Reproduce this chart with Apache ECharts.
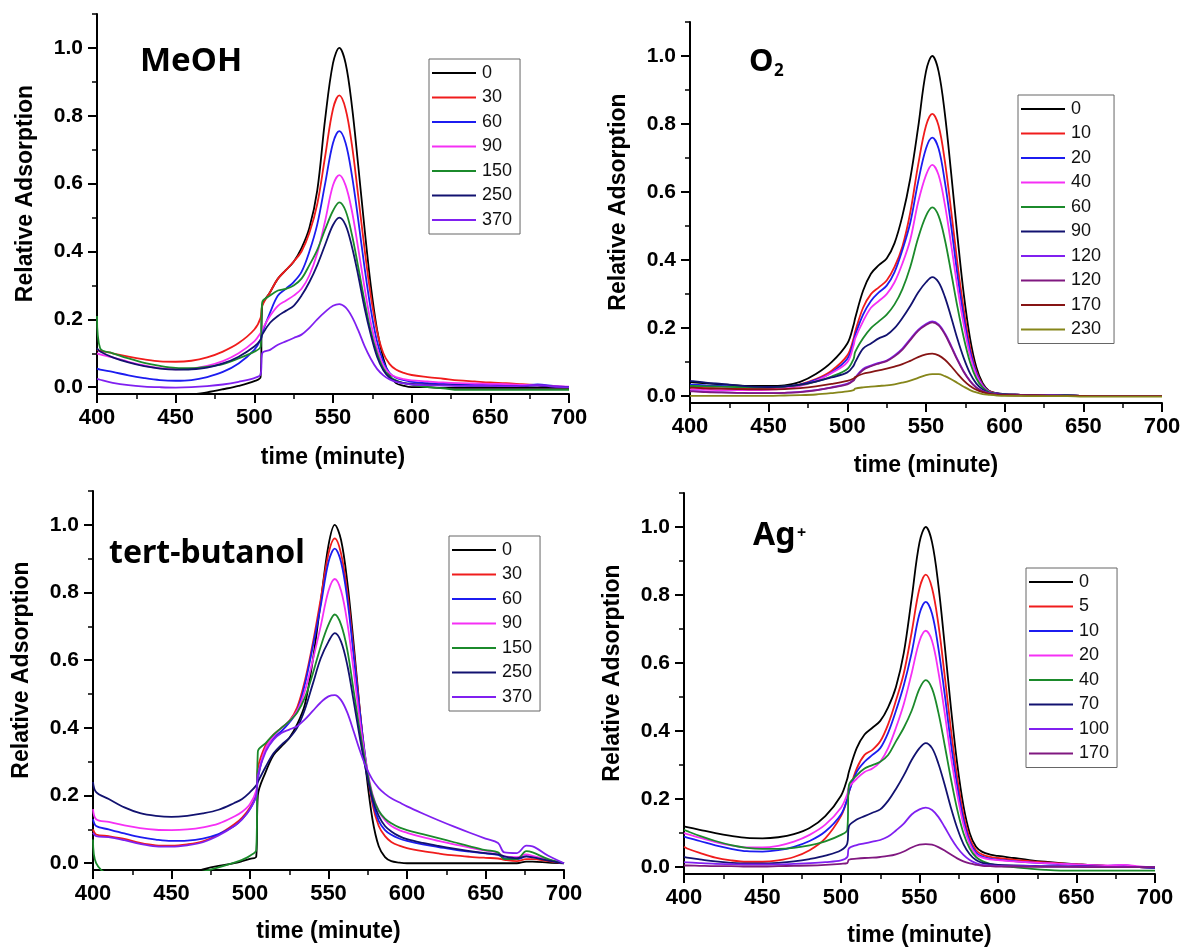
<!DOCTYPE html>
<html><head><meta charset="utf-8">
<script src="https://cdn.jsdelivr.net/npm/echarts@6/dist/echarts.min.js"></script>
<style>
html,body{margin:0;padding:0;background:#fff;width:1186px;height:947px;overflow:hidden}
.p{position:absolute}
</style></head>
<body>
<div id="c1" class="p" style="left:0;top:0;width:593px;height:482px"></div>
<div id="c2" class="p" style="left:593px;top:0;width:593px;height:482px"></div>
<div id="c3" class="p" style="left:0;top:470px;width:593px;height:477px"></div>
<div id="c4" class="p" style="left:593px;top:470px;width:593px;height:477px"></div>
<script>
// ---------- DATA ----------
// shared time grid (minute) for MeOH, O2 and Ag+ panels
const timeA = [400,402,410,420,430,440,450,460,470,480, 490,500,504,505,510,515,520,525,530,535, 540,545,550,554,558,562,566,570,574,578, 582,586,590,595,600,610,620,630,640,650, 660,670,680,690,700];
// time grid for tert-butanol panel
const timeB = [400,402,410,420,430,440,450,460,470,480, 490,495,500,504,505,510,515,520,525,530, 535,540,545,550,554,558,562,566,570,574, 578,582,586,590,595,600,610,620,630,640, 650,658,662,670,676,680,690,700];

const xTicks = [400,450,500,550,600,650,700];
const yTicks = [0.0,0.2,0.4,0.6,0.8,1.0];
const yMinorTicks = [0.1,0.3,0.5,0.7,0.9,1.1];

// MeOH panel
const meohLabels = ['0','30','60','90','150','250','370'];
const meoh_0   = [-0.03,-0.03,-0.03,-0.03,-0.03,-0.03,-0.028,-0.022,-0.015,-0.006, 0.004,0.018,0.03,0.24,0.28,0.32,0.345,0.37,0.41,0.47, 0.58,0.79,0.955,1.0,0.955,0.83,0.655,0.47,0.3,0.17, 0.085,0.035,0.012,0.004,0.0,0.0,-0.002,-0.002,-0.002,-0.002, -0.002,-0.002,-0.002,-0.002,-0.002];
const meoh_30  = [0.11,0.107,0.1,0.09,0.082,0.076,0.075,0.078,0.088,0.105, 0.13,0.17,0.205,0.24,0.28,0.32,0.345,0.37,0.4,0.455, 0.54,0.68,0.82,0.86,0.82,0.715,0.565,0.41,0.27,0.165, 0.1,0.068,0.052,0.042,0.036,0.03,0.025,0.02,0.017,0.014, 0.012,0.009,0.006,0.003,0.0];
const meoh_60  = [0.055,0.052,0.045,0.035,0.027,0.021,0.019,0.021,0.03,0.045, 0.07,0.11,0.14,0.16,0.22,0.27,0.29,0.31,0.34,0.4, 0.48,0.6,0.72,0.755,0.72,0.625,0.495,0.355,0.23,0.135, 0.075,0.042,0.028,0.021,0.016,0.012,0.01,0.009,0.008,0.007, 0.006,0.005,0.008,0.004,0.0];
const meoh_90  = [0.1,0.097,0.088,0.075,0.064,0.056,0.053,0.055,0.063,0.077, 0.1,0.135,0.16,0.17,0.21,0.24,0.255,0.27,0.29,0.33, 0.395,0.49,0.595,0.625,0.595,0.52,0.41,0.295,0.19,0.115, 0.065,0.04,0.03,0.024,0.02,0.017,0.014,0.012,0.011,0.01, 0.009,0.007,0.005,0.003,0.002];
const meoh_150 = [0.21,0.115,0.1,0.085,0.072,0.063,0.057,0.056,0.06,0.068, 0.085,0.105,0.12,0.25,0.27,0.285,0.29,0.3,0.32,0.36, 0.405,0.465,0.52,0.545,0.52,0.45,0.355,0.255,0.165,0.1, 0.055,0.032,0.02,0.012,0.008,0.0,-0.003,-0.008,-0.008,-0.008, -0.008,-0.008,-0.008,-0.008,-0.008];
const meoh_250 = [0.115,0.105,0.088,0.073,0.062,0.055,0.052,0.053,0.058,0.07, 0.09,0.12,0.14,0.155,0.19,0.21,0.225,0.24,0.27,0.31, 0.36,0.42,0.478,0.5,0.478,0.415,0.33,0.235,0.155,0.09, 0.05,0.028,0.018,0.012,0.01,0.008,0.006,0.005,0.004,0.004, 0.003,0.003,0.005,0.002,0.001];
const meoh_370 = [0.025,0.022,0.013,0.006,0.002,0.0,-0.001,0.0,0.003,0.008, 0.016,0.027,0.038,0.1,0.11,0.125,0.135,0.145,0.155,0.175, 0.2,0.222,0.24,0.245,0.235,0.208,0.168,0.122,0.084,0.054, 0.035,0.023,0.016,0.011,0.008,0.006,0.005,0.004,0.004,0.004, 0.003,0.004,0.006,0.002,0.0];

// O2 panel
const o2Labels = ['0','10','20','40','60','90','120','120 ','170','230'];
const o2_0    = [0.042,0.041,0.038,0.035,0.032,0.03,0.03,0.032,0.042,0.065, 0.1,0.155,0.21,0.23,0.31,0.36,0.385,0.405,0.45,0.53, 0.64,0.79,0.955,1.0,0.955,0.83,0.655,0.47,0.3,0.17, 0.085,0.038,0.016,0.009,0.006,0.004,0.003,0.002,0.002,0.001, 0.001,0.0,0.0,0.0,0.0];
const o2_10   = [0.025,0.025,0.024,0.023,0.022,0.022,0.023,0.027,0.035,0.05, 0.075,0.12,0.17,0.19,0.26,0.3,0.32,0.34,0.38,0.44, 0.54,0.68,0.795,0.83,0.795,0.69,0.545,0.39,0.255,0.145, 0.073,0.034,0.015,0.008,0.005,0.004,0.003,0.002,0.002,0.001, 0.001,0.0,0.0,0.0,0.0];
const o2_20   = [0.035,0.034,0.032,0.03,0.028,0.026,0.026,0.028,0.034,0.048, 0.07,0.11,0.16,0.18,0.24,0.28,0.305,0.325,0.365,0.43, 0.51,0.63,0.728,0.76,0.728,0.63,0.5,0.357,0.233,0.133, 0.068,0.032,0.014,0.008,0.005,0.004,0.003,0.002,0.002,0.001, 0.001,0.0,0.0,0.0,0.0];
const o2_40   = [0.02,0.02,0.019,0.018,0.018,0.018,0.019,0.022,0.03,0.045, 0.068,0.1,0.15,0.17,0.22,0.26,0.28,0.3,0.335,0.39, 0.46,0.57,0.65,0.68,0.65,0.563,0.445,0.32,0.21,0.12, 0.062,0.03,0.013,0.007,0.005,0.004,0.003,0.002,0.002,0.001, 0.001,0.0,0.0,0.0,0.0];
const o2_60   = [0.03,0.03,0.029,0.028,0.027,0.026,0.026,0.028,0.033,0.043, 0.058,0.08,0.11,0.13,0.17,0.2,0.22,0.24,0.27,0.315, 0.38,0.465,0.53,0.555,0.53,0.46,0.363,0.262,0.172,0.1, 0.052,0.026,0.012,0.007,0.005,0.004,0.003,0.002,0.002,0.001, 0.001,0.0,0.0,0.0,0.0];
const o2_90   = [0.045,0.044,0.04,0.036,0.032,0.028,0.027,0.029,0.034,0.043, 0.055,0.07,0.09,0.1,0.14,0.155,0.17,0.18,0.2,0.23, 0.265,0.305,0.335,0.35,0.335,0.292,0.232,0.168,0.112,0.067, 0.037,0.02,0.01,0.007,0.005,0.004,0.003,0.002,0.002,0.001, 0.001,0.0,0.0,0.0,0.0];
const o2_120a = [0.015,0.015,0.013,0.011,0.01,0.009,0.009,0.01,0.013,0.018, 0.026,0.037,0.048,0.055,0.08,0.09,0.098,0.105,0.12,0.14, 0.168,0.195,0.212,0.22,0.211,0.185,0.148,0.108,0.073,0.045, 0.026,0.015,0.009,0.005,0.004,0.003,0.002,0.002,0.001,0.001, 0.001,0.0,0.0,0.0,0.0];
const o2_120b = [0.014,0.014,0.012,0.011,0.01,0.009,0.009,0.01,0.012,0.017, 0.025,0.035,0.046,0.053,0.077,0.088,0.096,0.103,0.117,0.137, 0.165,0.192,0.209,0.217,0.208,0.182,0.145,0.106,0.071,0.044, 0.025,0.014,0.008,0.005,0.004,0.003,0.002,0.002,0.001,0.001, 0.001,0.0,0.0,0.0,0.0];
const o2_170  = [0.025,0.025,0.023,0.022,0.021,0.02,0.02,0.021,0.024,0.029, 0.036,0.045,0.052,0.056,0.066,0.071,0.076,0.081,0.087,0.094, 0.104,0.115,0.123,0.125,0.12,0.107,0.088,0.066,0.046,0.03, 0.019,0.012,0.007,0.004,0.003,0.002,0.002,0.001,0.001,0.001, 0.0,0.0,0.0,0.0,0.0];
const o2_230  = [0.001,0.001,0.001,0.001,0.001,0.001,0.001,0.002,0.003,0.005, 0.009,0.014,0.018,0.022,0.026,0.028,0.03,0.032,0.035,0.04, 0.046,0.054,0.062,0.065,0.065,0.059,0.05,0.039,0.028,0.018, 0.011,0.006,0.004,0.002,0.001,0.001,0.0,0.0,0.0,-0.001, -0.001,-0.001,-0.001,-0.001,-0.001];

// tert-butanol panel
const tbLabels = ['0','30','60','90','150','250','370'];
const tb_0   = [-0.03,-0.03,-0.03,-0.03,-0.03,-0.03,-0.03,-0.03,-0.018,-0.008, 0.0,0.006,0.013,0.02,0.2,0.27,0.32,0.345,0.37,0.41, 0.47,0.6,0.77,0.94,1.0,0.955,0.83,0.65,0.45,0.27, 0.13,0.05,0.018,0.006,0.002,0.0,0.0,0.0,0.0,0.0, 0.0,0.0,0.0,0.0,0.005,0.005,0.002,0.0];
const tb_30  = [0.1,0.085,0.08,0.072,0.06,0.053,0.052,0.056,0.065,0.085, 0.115,0.135,0.165,0.205,0.28,0.35,0.38,0.4,0.42,0.46, 0.54,0.65,0.78,0.915,0.96,0.915,0.8,0.63,0.45,0.29, 0.175,0.11,0.08,0.063,0.052,0.045,0.036,0.029,0.023,0.019, 0.016,0.014,0.01,0.006,0.012,0.012,0.006,0.0];
const tb_60  = [0.13,0.11,0.1,0.088,0.077,0.07,0.066,0.067,0.073,0.086, 0.11,0.13,0.16,0.2,0.25,0.34,0.37,0.39,0.415,0.45, 0.53,0.64,0.76,0.89,0.93,0.89,0.78,0.615,0.445,0.295, 0.185,0.125,0.098,0.084,0.073,0.066,0.056,0.048,0.04,0.034, 0.029,0.025,0.015,0.012,0.02,0.019,0.009,0.0];
const tb_90  = [0.16,0.13,0.122,0.112,0.104,0.099,0.098,0.1,0.106,0.117, 0.138,0.152,0.175,0.215,0.26,0.34,0.375,0.4,0.42,0.45, 0.51,0.6,0.7,0.805,0.84,0.805,0.71,0.57,0.42,0.295, 0.205,0.155,0.127,0.11,0.098,0.09,0.077,0.066,0.056,0.046, 0.037,0.031,0.02,0.018,0.026,0.022,0.01,0.0];
const tb_150 = [0.07,0.0,-0.03,-0.03,-0.03,-0.03,-0.03,-0.03,-0.025,-0.012, 0.002,0.01,0.022,0.04,0.33,0.355,0.38,0.4,0.42,0.445, 0.49,0.56,0.64,0.705,0.735,0.705,0.63,0.51,0.39,0.285, 0.2,0.155,0.132,0.118,0.106,0.098,0.086,0.074,0.062,0.05, 0.039,0.032,0.012,0.012,0.036,0.032,0.012,0.0];
const tb_250 = [0.24,0.21,0.19,0.165,0.148,0.14,0.137,0.14,0.147,0.158, 0.178,0.19,0.21,0.23,0.24,0.285,0.325,0.35,0.37,0.4, 0.455,0.53,0.605,0.655,0.68,0.655,0.585,0.48,0.37,0.27, 0.19,0.14,0.11,0.094,0.08,0.071,0.06,0.051,0.043,0.036, 0.03,0.026,0.02,0.015,0.02,0.017,0.008,0.0];
const tb_370 = [0.09,0.08,0.077,0.068,0.057,0.05,0.049,0.053,0.062,0.082, 0.11,0.13,0.16,0.2,0.26,0.33,0.365,0.385,0.395,0.405, 0.425,0.45,0.475,0.493,0.497,0.482,0.445,0.39,0.333,0.283, 0.247,0.222,0.205,0.192,0.18,0.168,0.147,0.127,0.108,0.09, 0.073,0.06,0.032,0.03,0.052,0.05,0.022,0.0];

// Ag+ panel
const agLabels = ['0','5','10','20','40','70','100','170'];
const ag_0   = [0.12,0.118,0.11,0.1,0.092,0.086,0.085,0.088,0.097,0.115, 0.15,0.21,0.26,0.28,0.35,0.39,0.41,0.43,0.47,0.53, 0.63,0.79,0.955,1.0,0.955,0.83,0.655,0.47,0.305,0.18, 0.1,0.06,0.045,0.037,0.033,0.027,0.021,0.016,0.012,0.009, 0.006,0.004,0.002,0.0,-0.002];
const ag_5   = [0.06,0.055,0.042,0.028,0.02,0.016,0.016,0.02,0.03,0.05, 0.085,0.15,0.2,0.22,0.29,0.33,0.345,0.37,0.42,0.49, 0.57,0.69,0.82,0.86,0.82,0.715,0.565,0.405,0.265,0.155, 0.085,0.05,0.037,0.03,0.027,0.022,0.018,0.014,0.011,0.008, 0.006,0.004,0.003,0.0,-0.002];
const ag_10  = [0.09,0.087,0.077,0.064,0.054,0.047,0.046,0.05,0.06,0.077, 0.105,0.155,0.2,0.22,0.28,0.31,0.33,0.35,0.395,0.46, 0.535,0.63,0.745,0.78,0.745,0.645,0.51,0.365,0.24,0.14, 0.075,0.043,0.031,0.025,0.022,0.018,0.014,0.011,0.009,0.007, 0.005,0.004,0.006,0.0,-0.002];
const ag_20  = [0.1,0.097,0.087,0.074,0.064,0.058,0.058,0.063,0.075,0.095, 0.125,0.175,0.215,0.235,0.26,0.28,0.29,0.31,0.35,0.41, 0.48,0.57,0.665,0.695,0.665,0.575,0.455,0.325,0.215,0.125, 0.068,0.038,0.028,0.023,0.021,0.017,0.014,0.012,0.01,0.008, 0.006,0.005,0.007,0.002,0.0];
const ag_40  = [0.11,0.106,0.092,0.077,0.065,0.057,0.054,0.054,0.057,0.064, 0.076,0.095,0.11,0.24,0.27,0.29,0.3,0.31,0.33,0.37, 0.41,0.46,0.525,0.55,0.525,0.455,0.36,0.26,0.17,0.1, 0.055,0.03,0.018,0.01,0.005,0.0,-0.004,-0.008,-0.01,-0.01, -0.01,-0.01,-0.01,-0.01,-0.01];
const ag_70  = [0.03,0.028,0.023,0.017,0.013,0.011,0.011,0.013,0.017,0.024, 0.034,0.05,0.07,0.12,0.14,0.15,0.16,0.17,0.195,0.23, 0.27,0.315,0.35,0.365,0.35,0.305,0.243,0.175,0.115,0.068, 0.038,0.021,0.013,0.009,0.007,0.005,0.004,0.003,0.003,0.002, 0.002,0.001,0.001,0.0,0.0];
const ag_100 = [0.015,0.014,0.012,0.01,0.009,0.008,0.008,0.008,0.01,0.012, 0.015,0.02,0.03,0.055,0.065,0.07,0.075,0.08,0.09,0.108, 0.128,0.155,0.17,0.175,0.168,0.148,0.118,0.086,0.058,0.036, 0.021,0.012,0.007,0.005,0.004,0.003,0.003,0.002,0.002,0.002, 0.001,0.001,0.001,0.0,0.0];
const ag_170 = [0.005,0.005,0.004,0.003,0.003,0.002,0.002,0.003,0.004,0.005, 0.007,0.01,0.012,0.022,0.025,0.027,0.028,0.03,0.033,0.038, 0.046,0.058,0.066,0.068,0.066,0.059,0.049,0.037,0.026,0.017, 0.011,0.007,0.004,0.003,0.002,0.002,0.001,0.001,0.001,0.001, 0.0,0.0,0.0,0.0,0.0];

// ---------- STYLE ----------
const FONT = '"Liberation Sans", Arial, Helvetica, sans-serif';
const TFONT = '"Noto Sans", "Open Sans", sans-serif';
const C = {
  black:'#000000', red:'#f01c1c', blue:'#1c1cf0', magenta:'#f530f5', green:'#1b8a2b',
  navy:'#121270', violet:'#8020f0', purple:'#801880', darkred:'#861414', olive:'#86861a'
};

function buildOption(p) {
  const series = p.ys.map((ys, i) => ({
    type: 'line',
    name: p.labels[i],
    data: p.x.map((t, k) => [t, ys[k]]),
    xAxisIndex: 0, yAxisIndex: 0,
    symbol: 'none', showSymbol: false,
    smooth: 0.35,
    lineStyle: { width: 1.8, color: p.colors[i] },
    itemStyle: { color: p.colors[i] },
    clip: true, animation: false, silent: true
  }));
  const axisLine = { show: true, onZero: false, lineStyle: { color: '#000', width: 2 } };
  return {
    animation: false,
    grid: Object.assign({ containLabel: false, outerBoundsMode: 'none' }, p.grid),
    xAxis: [{
      type: 'value', min: 400, max: 700, interval: 50,
      axisLine: axisLine,
      axisTick: { show: true, inside: false, length: 9, lineStyle: { color: '#000', width: 2 } },
      minorTick: { show: true, splitNumber: 2, length: 5, lineStyle: { color: '#000', width: 1.5 } },
      splitLine: { show: false }, minorSplitLine: { show: false },
      axisLabel: { show: true, margin: 13, fontSize: 22, fontWeight: 'bold', fontFamily: FONT, color: '#000',
        customValues: xTicks },
      name: 'time (minute)', nameLocation: 'middle', nameGap: p.xNameGap,
      nameTextStyle: { fontSize: 23, fontWeight: 'bold', fontFamily: FONT, color: '#000' }
    }],
    yAxis: [{
      type: 'value', min: -0.02, max: 1.1,
      axisLine: axisLine,
      axisTick: { show: true, inside: false, length: 9, lineStyle: { color: '#000', width: 2 }, customValues: yTicks },
      splitLine: { show: false },
      axisLabel: { show: true, margin: 14, fontSize: 21, fontWeight: 'bold', fontFamily: FONT, color: '#000',
        customValues: yTicks, formatter: v => Number(v).toFixed(1) },
      name: 'Relative Adsorption', nameLocation: 'middle', nameRotate: 90, nameGap: p.yNameGap,
      nameTextStyle: { fontSize: 23, fontWeight: 'bold', fontFamily: FONT, color: '#000', padding: [0, 0, 0, 21] }
    }, {
      type: 'value', min: -0.02, max: 1.1, position: 'left',
      axisLine: { show: false, onZero: false },
      axisTick: { show: true, inside: false, length: 5, lineStyle: { color: '#000', width: 1.5 }, customValues: yMinorTicks },
      axisLabel: { show: false }, splitLine: { show: false }
    }],
    legend: {
      show: true, orient: 'vertical', left: p.legend.left, top: p.legend.top,
      data: p.labels, selectedMode: false,
      icon: 'rect', itemWidth: 44, itemHeight: 2, itemGap: 6.5,
      padding: [5, 8, 5, 3],
      borderColor: '#666', borderWidth: 1, backgroundColor: '#fff',
      textStyle: { fontSize: 18, fontFamily: FONT, color: '#111', lineHeight: 18, padding: [0, 0, 0, 1] }
    },
    graphic: p.graphic,
    series: series
  };
}

function render(id, p) {
  const chart = echarts.init(document.getElementById(id), null, { renderer: 'canvas' });
  chart.setOption(buildOption(p));
}

render('c1', {
  x: timeA, labels: meohLabels,
  ys: [meoh_0, meoh_30, meoh_60, meoh_90, meoh_150, meoh_250, meoh_370],
  colors: [C.black, C.red, C.blue, C.magenta, C.green, C.navy, C.violet],
  grid: { left: 97, top: 14, width: 472, height: 380 },
  legend: { left: 429, top: 59 },
  xNameGap: 52, yNameGap: 60,
  graphic: [
    { type: 'text', left: 140, top: 45, style: { text: 'MeOH', font: 'bold 33px ' + TFONT, fill: '#000' } }
  ]
});

render('c2', {
  x: timeA, labels: o2Labels,
  ys: [o2_0, o2_10, o2_20, o2_40, o2_60, o2_90, o2_120a, o2_120b, o2_170, o2_230],
  colors: [C.black, C.red, C.blue, C.magenta, C.green, C.navy, C.violet, C.purple, C.darkred, C.olive],
  grid: { left: 97, top: 22, width: 472, height: 381 },
  legend: { left: 425, top: 95 },
  xNameGap: 51, yNameGap: 60,
  graphic: [
    { type: 'text', left: 156, top: 47, style: { text: 'O', font: 'bold 31px ' + TFONT, fill: '#000' } },
    { type: 'text', left: 181, top: 63, style: { text: '2', font: 'bold 17px ' + TFONT, fill: '#000' } }
  ]
});

render('c3', {
  x: timeB, labels: tbLabels,
  ys: [tb_0, tb_30, tb_60, tb_90, tb_150, tb_250, tb_370],
  colors: [C.black, C.red, C.blue, C.magenta, C.green, C.navy, C.violet],
  grid: { left: 93, top: 21, width: 471, height: 379 },
  legend: { left: 449, top: 66 },
  xNameGap: 50, yNameGap: 60,
  graphic: [
    { type: 'text', left: 109, top: 68, style: { text: 'tert-butanol', font: 'bold 32px ' + TFONT, fill: '#000' } }
  ]
});

render('c4', {
  x: timeA, labels: agLabels,
  ys: [ag_0, ag_5, ag_10, ag_20, ag_40, ag_70, ag_100, ag_170],
  colors: [C.black, C.red, C.blue, C.magenta, C.green, C.navy, C.violet, C.purple],
  grid: { left: 91, top: 23, width: 471, height: 381 },
  legend: { left: 433, top: 98 },
  xNameGap: 50, yNameGap: 60,
  graphic: [
    { type: 'text', left: 160, top: 50, style: { text: 'Ag', font: 'bold 32px ' + TFONT, fill: '#000' } },
    { type: 'text', left: 204, top: 55, style: { text: '+', font: 'bold 16px ' + TFONT, fill: '#000' } }
  ]
});
</script>
</body></html>
